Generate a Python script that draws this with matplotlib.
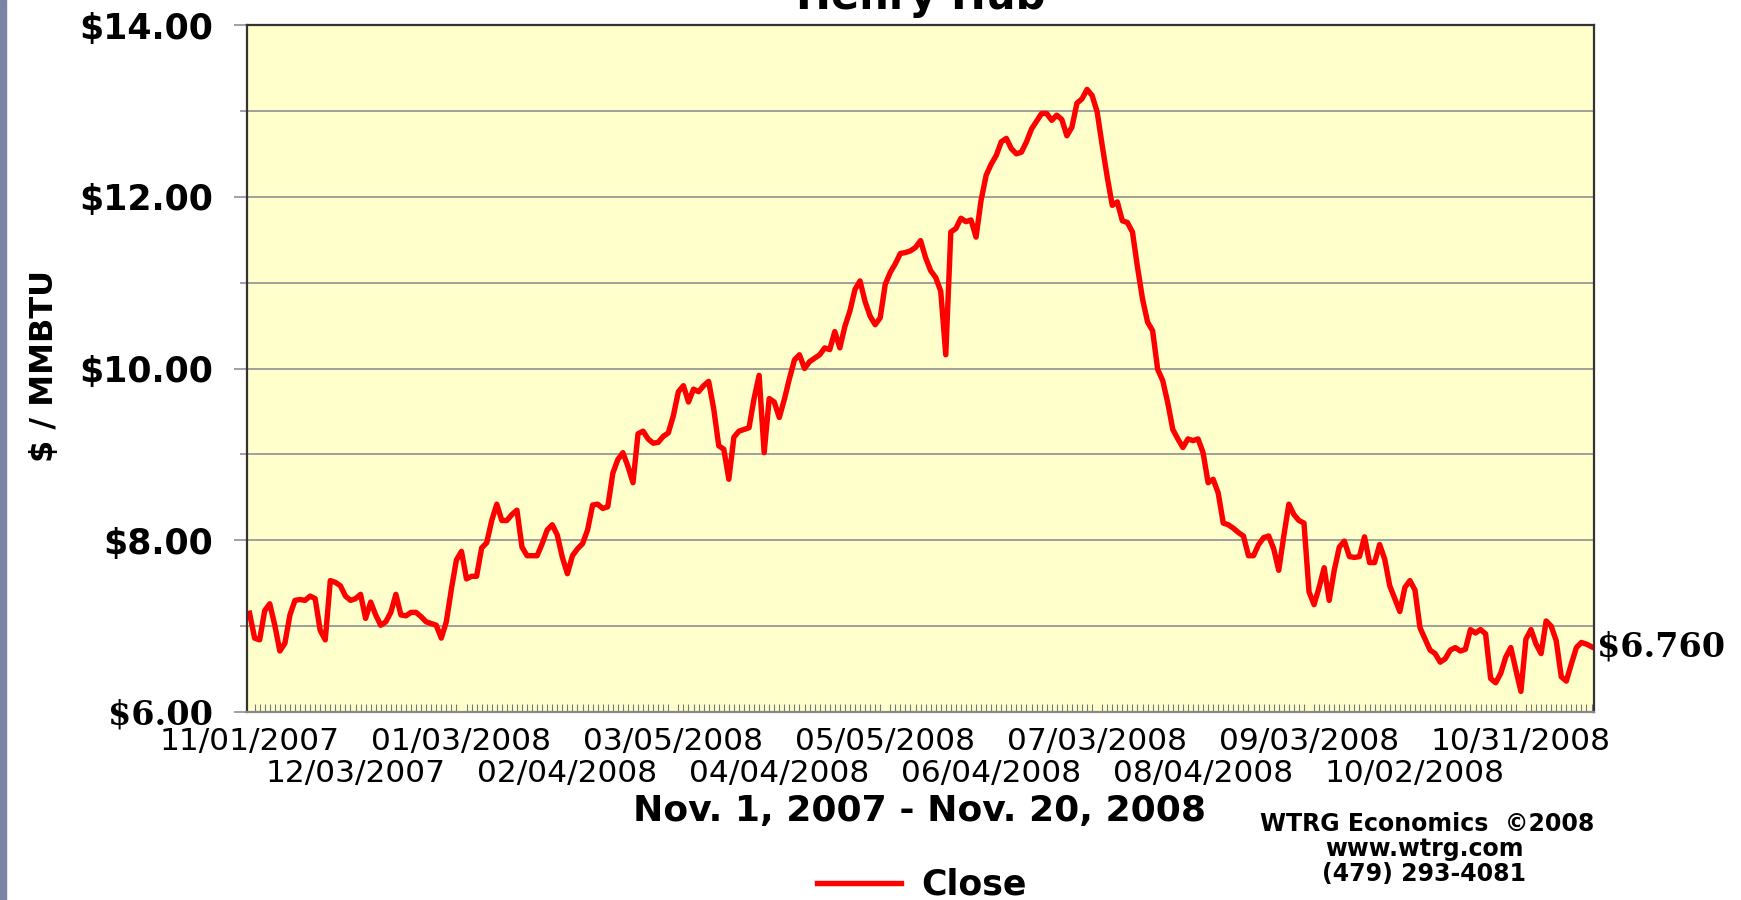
import matplotlib
matplotlib.use('Agg')
import matplotlib.pyplot as plt
from matplotlib.patches import Rectangle
import numpy as np

# Henry Hub daily close, $/MMBTU, 11/01/2007 - 11/20/2008 (trading days)
close = [
    7.15, 6.86, 6.84, 7.18, 7.26, 7.01, 6.71, 6.80, 7.13, 7.30,
    7.31, 7.30, 7.35, 7.32, 6.95, 6.84, 7.53, 7.51, 7.47, 7.35,
    7.30, 7.32, 7.37, 7.09, 7.28, 7.13, 7.01, 7.05, 7.16, 7.37,
    7.13, 7.12, 7.16, 7.16, 7.11, 7.05, 7.03, 7.01, 6.86, 7.05,
    7.43, 7.77, 7.87, 7.55, 7.58, 7.58, 7.91, 7.97, 8.23, 8.42,
    8.23, 8.23, 8.30, 8.35, 7.92, 7.82, 7.82, 7.82, 7.96, 8.12,
    8.18, 8.06, 7.80, 7.61, 7.82, 7.90, 7.96, 8.12, 8.41, 8.42,
    8.37, 8.39, 8.78, 8.94, 9.02, 8.86, 8.67, 9.24, 9.27, 9.18,
    9.13, 9.14, 9.21, 9.25, 9.45, 9.73, 9.80, 9.61, 9.76, 9.73,
    9.80, 9.85, 9.53, 9.10, 9.06, 8.71, 9.20, 9.27, 9.29, 9.31,
    9.65, 9.92, 9.02, 9.65, 9.61, 9.43, 9.64, 9.88, 10.10, 10.16,
    10.00, 10.08, 10.12, 10.16, 10.24, 10.22, 10.43, 10.24, 10.49, 10.67,
    10.92, 11.02, 10.78, 10.61, 10.51, 10.59, 10.98, 11.12, 11.22, 11.34,
    11.35, 11.37, 11.41, 11.49, 11.29, 11.14, 11.06, 10.90, 10.16, 11.59,
    11.63, 11.75, 11.71, 11.73, 11.53, 11.96, 12.25, 12.38, 12.48, 12.64,
    12.68, 12.56, 12.50, 12.52, 12.64, 12.79, 12.88, 12.97, 12.97, 12.89,
    12.95, 12.90, 12.71, 12.81, 13.09, 13.14, 13.25, 13.18, 12.99, 12.60,
    12.23, 11.90, 11.94, 11.72, 11.70, 11.59, 11.18, 10.81, 10.54, 10.44,
    9.99, 9.86, 9.60, 9.29, 9.18, 9.08, 9.18, 9.16, 9.18, 9.02,
    8.67, 8.71, 8.55, 8.20, 8.18, 8.14, 8.09, 8.05, 7.82, 7.82,
    7.95, 8.03, 8.05, 7.90, 7.65, 8.05, 8.42, 8.30, 8.23, 8.20,
    7.40, 7.25, 7.45, 7.68, 7.30, 7.65, 7.92, 7.99, 7.81, 7.80,
    7.81, 8.04, 7.74, 7.74, 7.95, 7.78, 7.47, 7.32, 7.17, 7.45,
    7.53, 7.42, 6.98, 6.85, 6.72, 6.68, 6.58, 6.62, 6.72, 6.75,
    6.71, 6.73, 6.96, 6.92, 6.96, 6.91, 6.39, 6.34, 6.45, 6.64,
    6.75, 6.49, 6.24, 6.85, 6.96, 6.79, 6.68, 7.06, 7.00, 6.83,
    6.41, 6.36, 6.56, 6.75, 6.81, 6.79, 6.76,
]

date_labels = [
    '11/01/2007', '12/03/2007', '01/03/2008', '02/04/2008', '03/05/2008',
    '04/04/2008', '05/05/2008', '06/04/2008', '07/03/2008', '08/04/2008',
    '09/03/2008', '10/02/2008', '10/31/2008',
]
label_step = 21  # one date label every 21 trading days

y_ticks = [6, 8, 10, 12, 14]

fig = plt.figure(figsize=(17.41, 9), dpi=100)
fig.patches.append(Rectangle((0, 0), 0.0035, 1, transform=fig.transFigure,
                             color='#7c84a4'))

ax = fig.add_axes([0.1419, 0.2089, 0.7737, 0.7633])
ax.set_facecolor('#ffffcc')

x = np.arange(len(close))
ax.plot(x, close, color='#ff0000', lw=3.9, label='Close')

ax.set_xlim(-0.5, len(close) - 0.5)
ax.set_ylim(6, 14)

# y axis
ax.set_yticks(y_ticks, labels=[f'${v:.2f}' for v in y_ticks])
ax.set_yticks(range(7, 14, 2), minor=True)
ax.grid(which='both', axis='y', color='#999999', lw=1.3)
ax.set_axisbelow(True)
ax.tick_params(axis='y', which='major', length=9.5, width=1.3, color='#999999',
               pad=15, labelsize=25)
ax.tick_params(axis='y', which='minor', length=5, width=1.3, color='#999999')
for t in ax.get_yticklabels():
    t.set_fontweight('bold')
ax.get_yticklabels()[0].set_family('DejaVu Serif')
ax.get_yticklabels()[0].set_fontsize(24)

# x axis: staggered date labels in two rows + a tick for every trading day
pos = x[::label_step]
ax.set_xticks(pos[::2], labels=date_labels[::2])
ax.set_xticks(x, minor=True)
ax.tick_params(axis='x', which='major', length=0, pad=11, labelsize=22.5)
ax.tick_params(axis='x', which='minor', direction='in', length=6,
               width=0.8, color='#777777')

low = ax.secondary_xaxis('bottom')
low.set_xticks(pos[1::2], labels=date_labels[1::2])
low.tick_params(axis='x', length=0, pad=34, labelsize=22.5)
low.spines['bottom'].set_visible(False)

for s in ax.spines.values():
    s.set_color('#333333')
    s.set_linewidth(1.6)
ax.spines['bottom'].set_color('#888888')

ax.annotate(f'${close[-1]:.3f}', xy=(1.0, close[-1]),
            xycoords=('axes fraction', 'data'), xytext=(2, 0),
            textcoords='offset points', ha='left', va='center',
            family='DejaVu Serif', weight='bold', fontsize=24)

fig.text(0.5287, 0.99, 'Henry Hub', ha='center', va='baseline',
         fontsize=30, weight='bold')
fig.text(0.0253, 0.593, '$ / MMBTU', rotation=90, ha='center', va='center',
         fontsize=23, weight='bold')
fig.text(0.528, 0.099, 'Nov. 1, 2007 - Nov. 20, 2008', ha='center',
         va='center', fontsize=26, weight='bold')

fig.text(0.8196, 0.0844, 'WTRG Economics  \u00a92008', ha='center',
         va='center', fontsize=17, weight='bold')
fig.text(0.818, 0.0567, 'www.wtrg.com', ha='center', va='center',
         fontsize=17, weight='bold')
fig.text(0.818, 0.0289, '(479) 293-4081', ha='center', va='center',
         fontsize=17, weight='bold')

fig.legend(loc='center', bbox_to_anchor=(0.5296, 0.0167), frameon=False,
           prop={'size': 25, 'weight': 'bold'}, handlelength=2.4,
           handletextpad=0.6, borderpad=0)

fig.savefig('out.png', dpi=100)
